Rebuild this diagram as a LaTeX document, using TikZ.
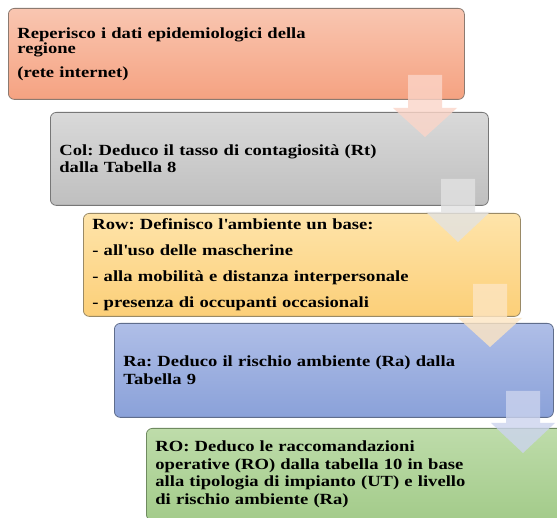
\documentclass[tikz,border=0pt]{standalone}
\usepackage{fontspec}
\setmainfont[FakeStretch=1.2]{Liberation Serif}
\definecolor{c1t}{HTML}{F9C6B1}
\definecolor{c1b}{HTML}{F5A281}
\definecolor{c1d}{HTML}{8C7A70}
\definecolor{c2t}{HTML}{D9D9D9}
\definecolor{c2b}{HTML}{BFBFBF}
\definecolor{c2d}{HTML}{777777}
\definecolor{c3t}{HTML}{FEE4AA}
\definecolor{c3b}{HTML}{FCCF78}
\definecolor{c3d}{HTML}{9A8A66}
\definecolor{c4t}{HTML}{AFBEE7}
\definecolor{c4b}{HTML}{8AA1D9}
\definecolor{c4d}{HTML}{5F6D8C}
\definecolor{c5t}{HTML}{BEDCAA}
\definecolor{c5b}{HTML}{A3CB8A}
\definecolor{c5d}{HTML}{6F8A60}
\definecolor{a1}{HTML}{FBD5C8}
\definecolor{a2}{HTML}{E2E2E2}
\definecolor{a3}{HTML}{FDE5C2}
\definecolor{a4}{HTML}{CCD4EE}
\frenchspacing
\begin{document}
\begin{tikzpicture}[x=1pt,y=1pt,
  stepbox/.style={draw, rounded corners=6pt, line width=0.8pt, inner xsep=9pt, inner ysep=0pt,
    align=left, anchor=north west, font=\bfseries\fontsize{15.5}{17.5}\selectfont},
  flowarrow/.style={fill opacity=0.8, draw=none}]
\useasboundingbox (0,0) rectangle (557,517);
\clip (0,0) rectangle (557,517);
\fill[white] (0,0) rectangle (557,517);
\node[stepbox, top color=c1t, bottom color=c1b, draw=c1d, minimum width=456pt, minimum height=91pt, text width=438pt,
  font=\bfseries\fontsize{15.5}{15}\selectfont] (b1) at (8,509)
  {Reperisco i dati epidemiologici della\\regione\\[9pt](rete internet)};
\node[stepbox, top color=c2t, bottom color=c2b, draw=c2d, minimum width=438pt, minimum height=93pt, text width=420pt] (b2) at (50,405)
  {Col: Deduco il tasso di contagiosità (Rt)\\dalla Tabella 8};
\node[stepbox, top color=c3t, bottom color=c3b, draw=c3d, minimum width=437pt, minimum height=103pt, text width=419pt] (b3) at (83,304)
  {Row: Definisco l\textquotesingle ambiente un base:\\[8.5pt]- all\textquotesingle uso delle mascherine\\[8.5pt]- alla mobilità e distanza interpersonale\\[8.5pt]- presenza di occupanti occasionali};
\node[stepbox, top color=c4t, bottom color=c4b, draw=c4d, minimum width=439pt, minimum height=94pt, text width=421pt] (b4) at (114,194)
  {Ra: Deduco il rischio ambiente (Ra) dalla\\Tabella 9};
\node[stepbox, top color=c5t, bottom color=c5b, draw=c5d, minimum width=454pt, minimum height=92pt, text width=436pt] (b5) at (146,89)
  {RO: Deduco le raccomandazioni\\operative (RO) dalla tabella 10 in base\\alla tipologia di impianto (UT) e livello\\di rischio ambiente (Ra)};
\fill[a1, flowarrow] (408,442) -- (442,442) -- (442,409) -- (457,409) -- (425,380) -- (393,409) -- (408,409) -- cycle;
\fill[a2, flowarrow] (441,338) -- (475,338) -- (475,305) -- (490,305) -- (458,275) -- (426,305) -- (441,305) -- cycle;
\fill[a3, flowarrow] (473,233) -- (507,233) -- (507,199) -- (522,199) -- (490,170) -- (458,199) -- (473,199) -- cycle;
\fill[a4, flowarrow] (506,126) -- (540,126) -- (540,94) -- (555,94) -- (523,64) -- (491,94) -- (506,94) -- cycle;
\end{tikzpicture}
\end{document}
